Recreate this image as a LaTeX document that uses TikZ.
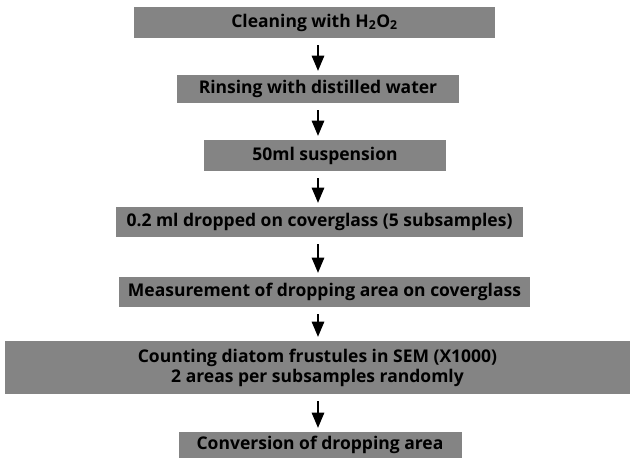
\documentclass[tikz,border=0pt]{standalone}
\usepackage{fontspec}
\setmainfont{Open Sans}
\usepackage{tikz}
\usetikzlibrary{arrows}
\definecolor{box_gray}{RGB}{132,132,132}

\begin{document}
\begin{tikzpicture}[->,>=triangle 45,x=1pt,y=-1pt]
    \tikzstyle{stepbox}=[fill=box_gray, draw=none, inner sep=0pt, minimum height=30pt, text=black, font=\fontsize{17.5}{20}\selectfont\bfseries, align=center]
    \tikzstyle{flow}=[line width=2.6pt, shorten <=7pt, shorten >=4pt]
    \useasboundingbox (0,0) rectangle (630,459);
    \coordinate (axis) at (318,0);

    \node[stepbox, minimum width=361pt, minimum height=31pt] (clean)   at (314.5,22.5) {Cleaning with H\textsubscript{2}O\textsubscript{2}};
    \node[stepbox, minimum width=282pt, minimum height=28pt] (rinse)   at (318,89)     {Rinsing with distilled water};
    \node[stepbox, minimum width=242pt, minimum height=31pt] (susp)    at (325,155.5)  {50ml suspension};
    \node[stepbox, minimum width=407pt]                      (drop)    at (319.5,222)  {0.2 ml dropped on coverglass (5 subsamples)};
    \node[stepbox, minimum width=411pt]                      (measure) at (324.5,292)  {Measurement of dropping area on coverglass};
    \node[stepbox, minimum width=625pt, minimum height=53pt] (count)   at (317.5,367.5) {Counting diatom frustules in SEM (X1000)\\2 areas per subsamples randomly};
    \node[stepbox, minimum width=283pt, minimum height=26pt] (convert) at (320,445)    {Conversion of dropping area};
    \path
     (clean.south -| axis)   edge[flow] (rinse.north -| axis)
     (rinse.south -| axis)   edge[flow] (susp.north -| axis)
     (susp.south -| axis)    edge[flow] (drop.north -| axis)
     (drop.south -| axis)    edge[flow] (measure.north -| axis)
     (measure.south -| axis) edge[flow] (count.north -| axis)
     (count.south -| axis)   edge[flow] (convert.north -| axis)
     ;
\end{tikzpicture}
\end{document}
